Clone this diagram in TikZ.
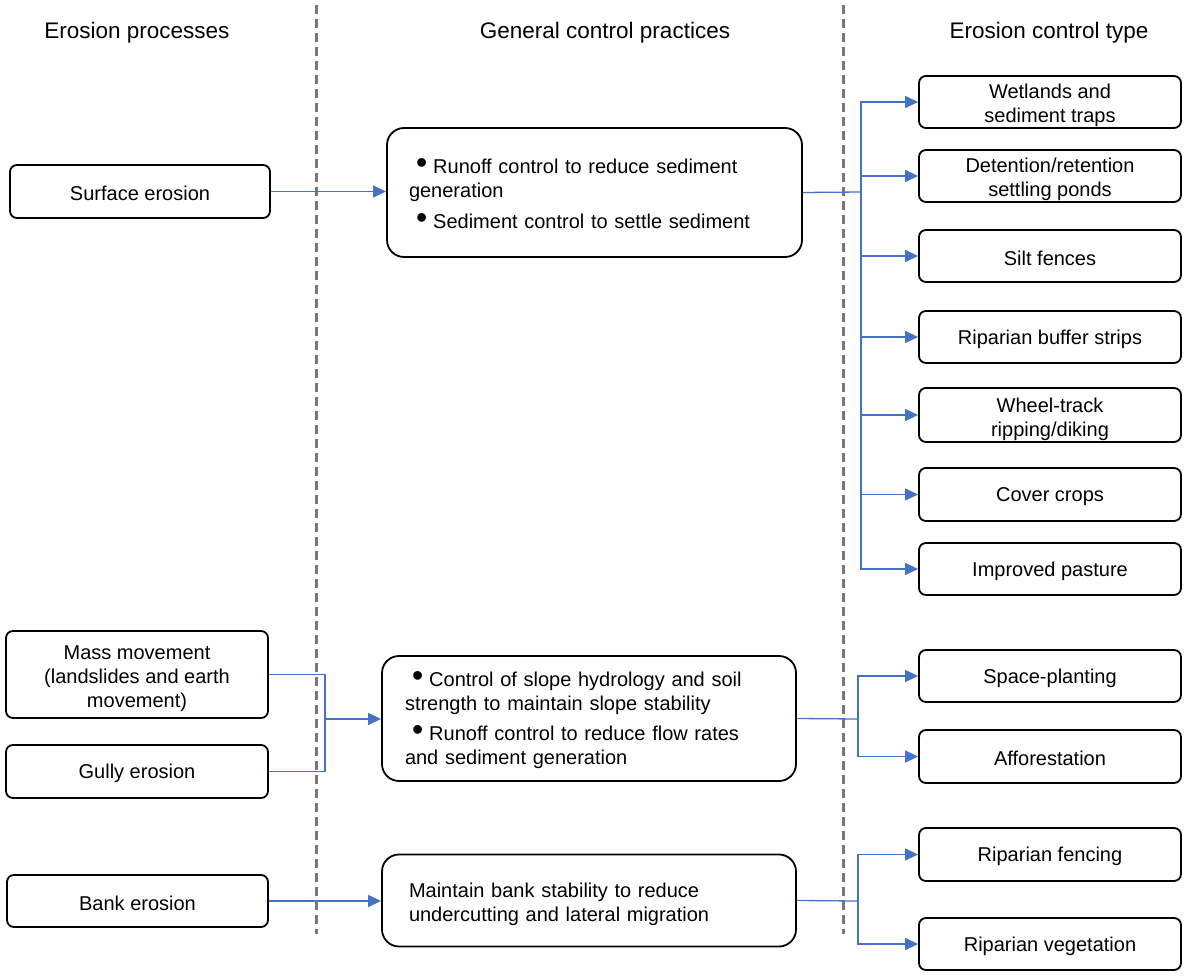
\documentclass[tikz,border=0pt]{standalone}
\usepackage{fontspec}
\setmainfont{Liberation Sans}
\usetikzlibrary{arrows.meta}
\definecolor{linkblue}{RGB}{68,114,196}
\definecolor{divgray}{RGB}{120,120,120}
\newcommand\bulitem{\hspace*{7pt}\smash{\fontsize{32}{32}\selectfont •}\hspace{6pt}}
\newcommand\tup{\rule{0pt}{23pt}}
\newcommand\tlow{\rule{0pt}{19pt}}
\newcommand\tdn{\rule[-5pt]{0pt}{0pt}}
\begin{document}
\begin{tikzpicture}[x=1pt,y=-1pt,
  box/.style={draw=black, line width=1.8pt, rounded corners=7pt, inner sep=0pt, align=center, font=\fontsize{20}{24}\selectfont},
  bigbox/.style={box, rounded corners=17pt, align=left},
  hdr/.style={font=\fontsize{22.5}{27}\selectfont},
  conn/.style={draw=linkblue, line width=1.3pt},
  arr/.style={conn, -{Triangle[length=13pt,width=12pt]}},
  divider/.style={draw=divgray, line width=3pt, dash pattern=on 9pt off 5pt}]
\useasboundingbox (0,0) rectangle (1187,976);

% dividers
\draw[divider] (316,5) -- (316,934);
\draw[divider] (843,5) -- (843,934);

% headers
\node[hdr] (h1) at (137,33) {Erosion processes};
\node[hdr] (h2) at (605,33) {General control practices};
\node[hdr] (h3) at (1049,33) {Erosion control type};

% left boxes
\node[box, minimum width=260pt, minimum height=53pt] (surf) at (140,191.5) {\tlow Surface erosion};
\node[box, minimum width=262pt, minimum height=87pt] (mass) at (137,674.5) {\tup Mass movement\\(landslides and earth\\movement)\tdn};
\node[box, minimum width=262pt, minimum height=53pt] (gully) at (137,771.5) {\tlow Gully erosion};
\node[box, minimum width=261pt, minimum height=52pt] (bank) at (137.5,901) {\tlow Bank erosion};

% middle boxes
\node[bigbox, minimum width=415pt, minimum height=129pt, text width=371pt] (p1) at (594.5,192.5)
  {\tup\bulitem Runoff control to reduce sediment\\generation\\[7pt]\bulitem Sediment control to settle sediment\tdn};
\node[bigbox, minimum width=414pt, minimum height=125pt, text width=368pt] (p2) at (589,718.5)
  {\tlow\bulitem Control of slope hydrology and soil\\strength to maintain slope stability\\[6pt]\bulitem Runoff control to reduce flow rates\\and sediment generation\tdn};
\node[bigbox, minimum width=414pt, minimum height=92pt, text width=360pt] (p3) at (589,900.5)
  {\tup Maintain bank stability to reduce\\undercutting and lateral migration\tdn};

% right boxes
\node[box, minimum width=262pt, minimum height=52pt] (r1) at (1050,102) {\tup Wetlands and\\sediment traps\tdn};
\node[box, minimum width=262pt, minimum height=52pt] (r2) at (1050,176) {\tup Detention/retention\\settling ponds\tdn};
\node[box, minimum width=262pt, minimum height=52pt] (r3) at (1050,256) {\tlow Silt fences};
\node[box, minimum width=262pt, minimum height=52pt] (r4) at (1050,337) {\tlow Riparian buffer strips};
\node[box, minimum width=262pt, minimum height=54pt] (r5) at (1050,415) {\tup Wheel-track\\ripping/diking\tdn};
\node[box, minimum width=262pt, minimum height=53pt] (r6) at (1050,494.5) {\tlow Cover crops};
\node[box, minimum width=262pt, minimum height=52pt] (r7) at (1050,569) {\tlow Improved pasture};
\node[box, minimum width=262pt, minimum height=52pt] (r8) at (1050,676) {\tlow Space-planting};
\node[box, minimum width=262pt, minimum height=53pt] (r9) at (1050,756.5) {\tlow Afforestation};
\node[box, minimum width=262pt, minimum height=53pt] (r10) at (1050,854.5) {\tlow Riparian fencing};
\node[box, minimum width=262pt, minimum height=52pt] (r11) at (1050,944) {\tlow Riparian vegetation};

% junction coordinates
\coordinate (t1) at (861,192);
\coordinate (j1) at (325,719);
\coordinate (t2) at (858,719);
\coordinate (t3) at (858,901);

% connectors
\draw[arr] (surf.east) -- (surf.east -| p1.west);
\draw[conn] (p1.east) -- (t1);
\foreach \r in {r1,r2,r3,r4,r5,r6,r7}
  \draw[arr] (t1) |- (\r.west);

\draw[conn] (mass.east) -| (j1);
\draw[conn] (gully.east) -| (j1);
\draw[arr] (j1) -- (j1 -| p2.west);

\draw[conn] (p2.east) -- (t2);
\draw[arr] (t2) |- (r8.west);
\draw[arr] (t2) |- (r9.west);

\draw[arr] (bank.east) -- (bank.east -| p3.west);
\draw[conn] (p3.east) -- (t3);
\draw[arr] (t3) |- (r10.west);
\draw[arr] (t3) |- (r11.west);
\end{tikzpicture}
\end{document}
